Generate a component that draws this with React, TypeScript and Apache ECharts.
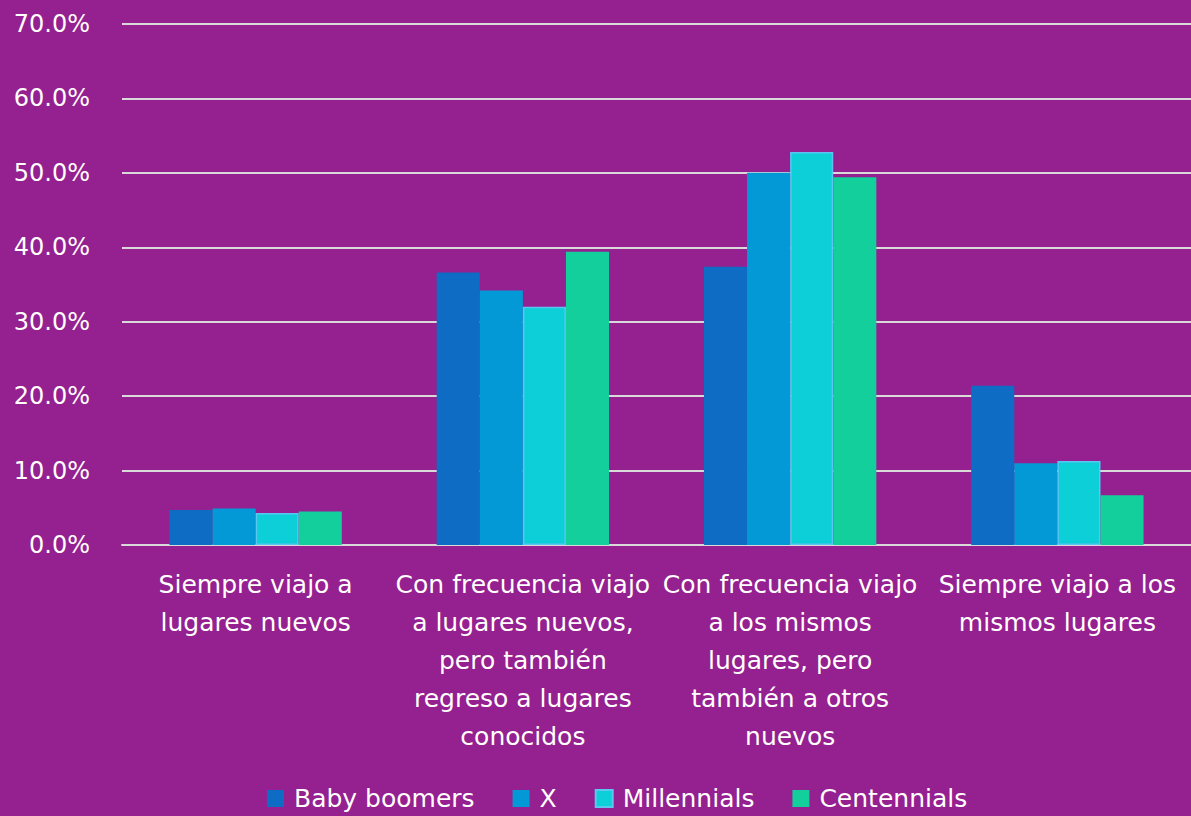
import React, { useEffect, useRef } from "react";
import * as echarts from "echarts";

const categories = [
  "Siempre viajo a\nlugares nuevos",
  "Con frecuencia viajo\na lugares nuevos,\npero también\nregreso a lugares\nconocidos",
  "Con frecuencia viajo\na los mismos\nlugares, pero\ntambién a otros\nnuevos",
  "Siempre viajo a los\nmismos lugares",
];
const seriesNames = ["Baby boomers", "X", "Millennials", "Centennials"];
const babyBoomers = [4.7, 36.6, 37.4, 21.4];
const genX = [4.9, 34.2, 50.0, 11.0];
const millennials = [4.3, 32.0, 52.8, 11.3];
const centennials = [4.5, 39.4, 49.4, 6.7];
const yTicks = [0, 10, 20, 30, 40, 50, 60, 70];

const BG = "#95208f";
const colors = ["#0f6cc4", "#0399d6", "#0ccfd8", "#12cf9b"];
const FONT = "'DejaVu Sans', sans-serif";

export default function App() {
  const ref = useRef<HTMLDivElement>(null);
  useEffect(() => {
    document.body.style.margin = "0";
    document.body.style.background = BG;
    const chart = echarts.init(ref.current!, null, { renderer: "svg" });
    const values = [babyBoomers, genX, millennials, centennials];
    chart.setOption({
      animation: false,
      backgroundColor: BG,
      textStyle: { fontFamily: FONT },
      grid: { left: 122, right: 0, top: 24, bottom: 816 - 545 },
      legend: {
        bottom: 0,
        left: 262,
        icon: "rect",
        itemWidth: 17,
        itemHeight: 17,
        itemGap: 38,
        textStyle: {
          color: "#ffffff",
          fontSize: 25,
          fontFamily: FONT,
          padding: [0, 0, 0, 5],
        },
        data: seriesNames,
      },
      xAxis: {
        type: "category",
        data: categories,
        axisLine: { lineStyle: { color: "#d9d9d9", width: 2 } },
        axisTick: { show: false },
        axisLabel: {
          interval: 0,
          color: "#ffffff",
          fontSize: 25,
          lineHeight: 38,
          margin: 20,
          fontFamily: FONT,
        },
      },
      yAxis: {
        type: "value",
        min: 0,
        max: 70,
        interval: 10,
        axisLine: { show: false },
        axisTick: { show: false },
        splitLine: { lineStyle: { color: "#d9d9d9", width: 2 } },
        axisLabel: {
          color: "#ffffff",
          fontSize: 24,
          margin: 32,
          fontFamily: FONT,
          formatter: (v: number) => (yTicks.includes(v) ? v.toFixed(1) + "%" : ""),
        },
      },
      series: seriesNames.map((name, i) => ({
        name,
        type: "bar",
        data: values[i],
        barGap: "0%",
        barCategoryGap: "35.5%",
        itemStyle: {
          color: colors[i],
          borderColor: i === 2 ? "#5cc6f2" : colors[i],
          borderWidth: i === 2 ? 1.5 : 0,
        },
      })),
    });
    return () => chart.dispose();
  }, []);
  return <div ref={ref} style={{ width: 1191, height: 816 }} />;
}
